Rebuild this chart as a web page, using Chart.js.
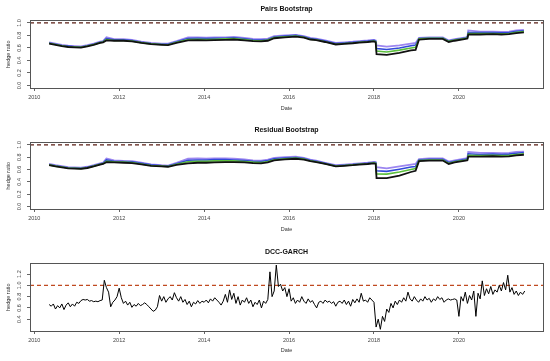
<!DOCTYPE html>
<html>
<head>
<meta charset="utf-8">
<script src="https://cdn.jsdelivr.net/npm/chart.js@4/dist/chart.umd.min.js"></script>
<style>
  html, body { margin: 0; padding: 0; background: #fff; }
  .panel { position: absolute; left: 0; }
</style>
</head>
<body>
<canvas id="pairs" class="panel" width="550" height="120" style="top:0"></canvas>
<canvas id="resid" class="panel" width="550" height="120" style="top:120px"></canvas>
<canvas id="dcc" class="panel" width="550" height="121" style="top:240px"></canvas>
<script>
// x axis (decimal years)
const xTicks = [2010, 2012, 2014, 2016, 2018, 2020];
const xRange = [2009.9, 2021.98];
const refLevel = [1.0, 1.0];

// Pairs bootstrap quantile lines
const pairsDates = [2010.35, 2010.5, 2010.65, 2010.8, 2010.95, 2011.1, 2011.25, 2011.4, 2011.55, 2011.62,
    2011.7, 2011.88, 2012.1, 2012.3, 2012.52, 2012.75, 2013.0, 2013.15, 2013.35, 2013.62,
    2013.85, 2014.05, 2014.24, 2014.5, 2014.7, 2014.95, 2015.15, 2015.34, 2015.5, 2015.65,
    2015.9, 2016.16, 2016.35, 2016.5, 2016.64, 2016.85, 2017.1, 2017.3, 2017.5, 2017.65,
    2017.85, 2018.0, 2018.04, 2018.06, 2018.3, 2018.6, 2018.87, 2018.98, 2019.06, 2019.3,
    2019.62, 2019.76, 2019.9, 2020.16, 2020.2, 2020.22, 2020.5, 2020.8, 2021.0, 2021.18,
    2021.35, 2021.53];
const pairsBlack = [0.67, 0.65, 0.63, 0.615, 0.61, 0.605, 0.625, 0.65, 0.68, 0.69,
    0.72, 0.715, 0.715, 0.705, 0.68, 0.66, 0.65, 0.645, 0.68, 0.72,
    0.725, 0.72, 0.725, 0.73, 0.735, 0.72, 0.71, 0.705, 0.715, 0.755,
    0.77, 0.78, 0.765, 0.735, 0.725, 0.695, 0.655, 0.665, 0.675, 0.685,
    0.695, 0.705, 0.69, 0.50, 0.49, 0.52, 0.56, 0.57, 0.735, 0.745,
    0.745, 0.695, 0.715, 0.745, 0.75, 0.815, 0.815, 0.82, 0.815, 0.82,
    0.835, 0.85];
const pairsGreen = [0.675, 0.655, 0.635, 0.62, 0.615, 0.61, 0.63, 0.655, 0.685, 0.695,
    0.735, 0.72, 0.72, 0.71, 0.685, 0.665, 0.655, 0.65, 0.69, 0.735,
    0.74, 0.735, 0.74, 0.745, 0.75, 0.735, 0.72, 0.715, 0.725, 0.765,
    0.78, 0.79, 0.77, 0.74, 0.73, 0.70, 0.66, 0.67, 0.68, 0.69,
    0.70, 0.71, 0.70, 0.55, 0.535, 0.565, 0.60, 0.61, 0.745, 0.755,
    0.755, 0.705, 0.725, 0.755, 0.76, 0.83, 0.83, 0.83, 0.825, 0.83,
    0.85, 0.86];
const pairsBlue = [0.68, 0.66, 0.64, 0.63, 0.62, 0.615, 0.635, 0.66, 0.69, 0.70,
    0.75, 0.73, 0.73, 0.72, 0.69, 0.67, 0.66, 0.66, 0.70, 0.75,
    0.755, 0.75, 0.755, 0.755, 0.76, 0.745, 0.73, 0.725, 0.735, 0.775,
    0.79, 0.80, 0.78, 0.75, 0.74, 0.71, 0.67, 0.68, 0.69, 0.70,
    0.71, 0.72, 0.71, 0.59, 0.575, 0.60, 0.635, 0.645, 0.75, 0.76,
    0.76, 0.71, 0.73, 0.76, 0.77, 0.845, 0.845, 0.845, 0.84, 0.845,
    0.865, 0.875];
const pairsPurple = [0.69, 0.67, 0.65, 0.635, 0.63, 0.625, 0.645, 0.67, 0.70, 0.71,
    0.77, 0.74, 0.74, 0.73, 0.70, 0.68, 0.67, 0.67, 0.71, 0.77,
    0.77, 0.765, 0.77, 0.77, 0.775, 0.76, 0.745, 0.74, 0.75, 0.79,
    0.80, 0.81, 0.79, 0.76, 0.75, 0.72, 0.68, 0.69, 0.70, 0.71,
    0.72, 0.73, 0.72, 0.64, 0.62, 0.64, 0.67, 0.68, 0.76, 0.77,
    0.77, 0.72, 0.74, 0.77, 0.78, 0.88, 0.86, 0.86, 0.855, 0.86,
    0.88, 0.89];

// Residual bootstrap quantile lines
const residDates = pairsDates;
const residBlack = [0.67, 0.65, 0.635, 0.62, 0.615, 0.61, 0.625, 0.65, 0.68, 0.69,
    0.72, 0.715, 0.71, 0.705, 0.685, 0.66, 0.65, 0.645, 0.675, 0.70,
    0.71, 0.71, 0.715, 0.72, 0.72, 0.715, 0.705, 0.70, 0.715, 0.75,
    0.765, 0.775, 0.76, 0.735, 0.72, 0.69, 0.65, 0.66, 0.67, 0.68,
    0.69, 0.70, 0.69, 0.46, 0.46, 0.50, 0.56, 0.58, 0.735, 0.745,
    0.745, 0.69, 0.715, 0.745, 0.75, 0.81, 0.81, 0.815, 0.81, 0.815,
    0.83, 0.84];
const residGreen = [0.675, 0.655, 0.64, 0.625, 0.62, 0.615, 0.63, 0.655, 0.685, 0.695,
    0.735, 0.725, 0.72, 0.715, 0.69, 0.665, 0.655, 0.65, 0.685, 0.725,
    0.735, 0.735, 0.74, 0.74, 0.74, 0.73, 0.72, 0.715, 0.73, 0.76,
    0.775, 0.785, 0.77, 0.74, 0.725, 0.695, 0.655, 0.665, 0.675, 0.685,
    0.695, 0.71, 0.70, 0.53, 0.525, 0.56, 0.60, 0.615, 0.745, 0.755,
    0.755, 0.70, 0.725, 0.755, 0.76, 0.83, 0.825, 0.83, 0.825, 0.83,
    0.845, 0.855];
const residBlue = [0.68, 0.66, 0.645, 0.63, 0.625, 0.62, 0.635, 0.66, 0.69, 0.70,
    0.755, 0.735, 0.73, 0.725, 0.70, 0.675, 0.66, 0.655, 0.695, 0.75,
    0.755, 0.755, 0.76, 0.76, 0.755, 0.745, 0.735, 0.73, 0.745, 0.775,
    0.785, 0.795, 0.78, 0.75, 0.735, 0.70, 0.66, 0.67, 0.68, 0.69,
    0.70, 0.715, 0.71, 0.58, 0.57, 0.605, 0.64, 0.65, 0.755, 0.765,
    0.765, 0.715, 0.735, 0.765, 0.775, 0.855, 0.845, 0.85, 0.845, 0.85,
    0.865, 0.875];
const residPurple = [0.69, 0.67, 0.655, 0.64, 0.635, 0.63, 0.645, 0.67, 0.70, 0.71,
    0.78, 0.75, 0.74, 0.735, 0.71, 0.685, 0.67, 0.665, 0.71, 0.775,
    0.78, 0.775, 0.78, 0.78, 0.775, 0.765, 0.75, 0.745, 0.76, 0.79,
    0.80, 0.81, 0.79, 0.76, 0.745, 0.71, 0.67, 0.68, 0.69, 0.70,
    0.71, 0.725, 0.72, 0.64, 0.62, 0.65, 0.68, 0.69, 0.77, 0.78,
    0.78, 0.73, 0.75, 0.78, 0.79, 0.885, 0.87, 0.87, 0.865, 0.87,
    0.885, 0.89];

// DCC-GARCH hedge ratio, sampled every 0.05 year from 2010.35
const dccStart = 2010.35;
const dccStep = 0.05;
const dccValues = [
    0.66, 0.63, 0.67, 0.58, 0.64, 0.60, 0.67, 0.57, 0.65, 0.69, 0.62, 0.67,          // 2010.35-2010.90
    0.63, 0.70, 0.68, 0.73, 0.75, 0.74, 0.75, 0.72, 0.73, 0.71, 0.72, 0.71,          // 2010.95-2011.50
    0.73, 0.74, 1.09, 0.96, 0.88, 0.62, 0.70, 0.74, 0.80, 0.95, 0.78, 0.68,          // 2011.55-2012.10
    0.72, 0.65, 0.70, 0.61, 0.66, 0.63, 0.68, 0.64, 0.66, 0.69, 0.66, 0.62,          // 2012.15-2012.70
    0.58, 0.54, 0.56, 0.62, 0.82, 0.72, 0.80, 0.70, 0.76, 0.80, 0.74, 0.87,          // 2012.75-2013.30
    0.78, 0.72, 0.80, 0.70, 0.75, 0.66, 0.72, 0.62, 0.70, 0.67, 0.73, 0.68,          // 2013.35-2013.90
    0.72, 0.70, 0.74, 0.69, 0.76, 0.72, 0.78, 0.74, 0.70, 0.65, 0.72, 0.84,          // 2013.95-2014.50
    0.70, 0.92, 0.75, 0.86, 0.68, 0.80, 0.65, 0.74, 0.70, 0.78, 0.68, 0.74,          // 2014.55-2015.10
    0.62, 0.70, 0.66, 0.74, 0.60, 0.72, 0.68, 0.75, 1.24, 0.80, 0.90, 1.36,          // 2015.15-2015.70
    0.98, 1.02, 0.90, 0.96, 0.80, 0.94, 0.72, 0.78, 0.68, 0.74, 0.70, 0.80,          // 2015.75-2016.30
    0.72, 0.68, 0.76, 0.70, 0.73, 0.66, 0.60, 0.70, 0.72, 0.68, 0.74, 0.70,          // 2016.35-2016.90
    0.72, 0.68, 0.71, 0.63, 0.70, 0.72, 0.68, 0.74, 0.66, 0.72, 0.63, 0.75,          // 2016.95-2017.50
    0.69, 0.76, 0.70, 0.86, 0.72, 0.74, 0.70, 0.78, 0.74, 0.70, 0.26, 0.40,          // 2017.55-2018.10
    0.22, 0.45, 0.36, 0.58, 0.52, 0.68, 0.60, 0.72, 0.66, 0.74, 0.70, 0.78,          // 2018.15-2018.70
    0.72, 0.88, 0.76, 0.72, 0.80, 0.74, 0.70, 0.76, 0.72, 0.80, 0.74, 0.77,          // 2018.75-2019.30
    0.70, 0.76, 0.73, 0.80, 0.75, 0.78, 0.70, 0.74, 0.76, 0.74, 0.75, 0.76,          // 2019.35-2019.90
    0.74, 0.45, 0.80, 0.72, 0.88, 0.68, 0.82, 0.74, 0.90, 0.45, 0.86, 0.76,          // 2019.95-2020.50
    1.08, 0.82, 0.94, 0.85, 0.98, 0.84, 0.92, 0.88, 1.00, 0.90, 1.05, 0.92,          // 2020.55-2021.10
    1.18, 0.88, 0.96, 0.84, 0.90, 0.82, 0.88, 0.84, 0.90                             // 2021.15-2021.55
];

const FONT = '"Liberation Sans", Arial, sans-serif';

function pts(xs, ys) {
    return ys.map((y, i) => ({ x: xs[i], y: y }));
}

const boxPlugin = {
    id: 'box',
    afterDraw(chart) {
        const a = chart.chartArea;
        const ctx = chart.ctx;
        ctx.save();
        ctx.strokeStyle = '#555';
        ctx.lineWidth = 1;
        ctx.strokeRect(Math.round(a.left) + 0.5, Math.round(a.top) + 0.5,
            Math.round(a.right - a.left), Math.round(a.bottom - a.top));
        ctx.restore();
    }
};

// lay = title padding and x-axis block height for each panel
function makePanel(id, title, series, yMin, yMax, yTicks, refColor, lay) {
    const datasets = series.map(s => ({
        data: s.data,
        borderColor: s.color,
        borderWidth: s.width,
        pointRadius: 0,
        tension: 0,
        fill: false,
    }));
    datasets.push({
        data: pts(xRange, refLevel),
        borderColor: refColor,
        borderWidth: 1.3,
        borderDash: [4, 3],
        pointRadius: 0,
        fill: false,
    });

    return new Chart(document.getElementById(id), {
        type: 'line',
        data: { datasets },
        options: {
            responsive: false,
            animation: false,
            devicePixelRatio: 1,
            layout: { padding: { left: 0, right: 7, top: 0, bottom: 0 } },
            plugins: {
                legend: { display: false },
                tooltip: { enabled: false },
                title: {
                    display: true,
                    text: title,
                    color: '#111',
                    fullSize: false,
                    font: { family: FONT, size: 7, weight: 'bold' },
                    padding: { top: lay.tTop, bottom: lay.tBottom },
                },
            },
            scales: {
                x: {
                    type: 'linear',
                    min: xRange[0],
                    max: xRange[1],
                    afterBuildTicks: s => { s.ticks = xTicks.map(v => ({ value: v })); },
                    afterFit: s => { s.height = lay.xh; },
                    grid: { drawOnChartArea: false, drawTicks: true, tickLength: 3, color: '#666' },
                    border: { display: false },
                    ticks: {
                        color: '#444',
                        padding: 3,
                        maxRotation: 0,
                        font: { family: FONT, size: 5.5 },
                        callback: v => String(v),
                    },
                    title: {
                        display: true,
                        text: 'Date',
                        color: '#333',
                        font: { family: FONT, size: 5.5 },
                        padding: { top: 0, bottom: lay.dateBottom },
                    },
                },
                y: {
                    type: 'linear',
                    min: yMin,
                    max: yMax,
                    afterBuildTicks: s => { s.ticks = yTicks.map(v => ({ value: v })); },
                    afterFit: s => { s.width = 30; },
                    grid: { drawOnChartArea: false, drawTicks: true, tickLength: 3, color: '#666' },
                    border: { display: false },
                    ticks: {
                        color: '#444',
                        padding: 4,
                        minRotation: 90,
                        maxRotation: 90,
                        crossAlign: 'center',
                        font: { family: FONT, size: 5.5 },
                        callback: v => v.toFixed(1),
                    },
                    title: {
                        display: true,
                        text: 'hedge ratio',
                        color: '#333',
                        font: { family: FONT, size: 5.5 },
                        padding: { top: 5, bottom: 0 },
                    },
                },
            },
        },
        plugins: [boxPlugin],
    });
}

const unitTicks = [0.0, 0.2, 0.4, 0.6, 0.8, 1.0];

makePanel('pairs', 'Pairs Bootstrap', [
    { data: pts(pairsDates, pairsBlack), color: '#111111', width: 1.8 },
    { data: pts(pairsDates, pairsGreen), color: '#5cbf3c', width: 1.6 },
    { data: pts(pairsDates, pairsBlue), color: '#3048d8', width: 1.6 },
    { data: pts(pairsDates, pairsPurple), color: '#9c86f0', width: 1.8 },
], -0.04, 1.04, unitTicks, '#5a1e14', { tTop: 5, tBottom: 7, xh: 32, dateBottom: 8 });

makePanel('resid', 'Residual Bootstrap', [
    { data: pts(residDates, residBlack), color: '#111111', width: 1.8 },
    { data: pts(residDates, residGreen), color: '#5cbf3c', width: 1.6 },
    { data: pts(residDates, residBlue), color: '#3048d8', width: 1.6 },
    { data: pts(residDates, residPurple), color: '#9c86f0', width: 1.8 },
], -0.04, 1.04, unitTicks, '#5a1e14', { tTop: 6, tBottom: 8, xh: 31, dateBottom: 7 });

const dccDates = dccValues.map((_, i) => +(dccStart + i * dccStep).toFixed(2));

makePanel('dcc', 'DCC-GARCH', [
    { data: pts(dccDates, dccValues), color: '#000000', width: 1 },
], 0.19, 1.39, [0.4, 0.6, 0.8, 1.0, 1.2], '#c04a20', { tTop: 8, tBottom: 7, xh: 30, dateBottom: 7 });
</script>
</body>
</html>
